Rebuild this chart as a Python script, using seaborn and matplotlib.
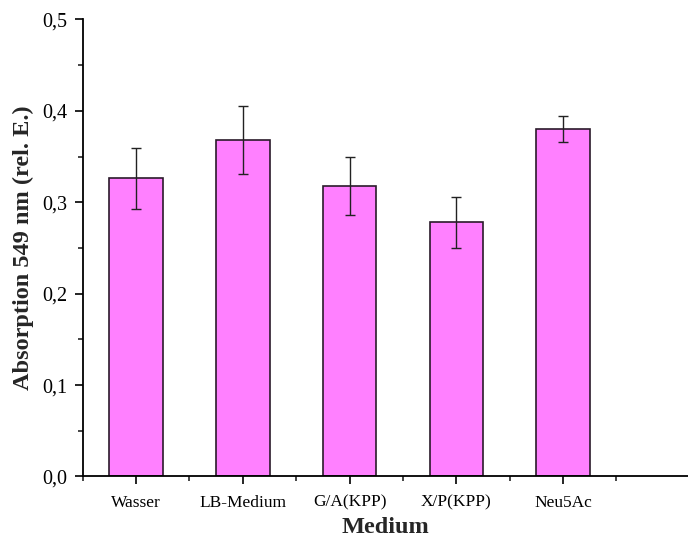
import matplotlib
matplotlib.use("Agg")
import matplotlib.pyplot as plt
import seaborn as sns
import pandas as pd
from matplotlib.ticker import MultipleLocator, FixedLocator, FuncFormatter

categories = ["Wasser", "LB-Medium", "G/A(KPP)", "X/P(KPP)", "Neu5Ac"]
values = [0.326, 0.368, 0.318, 0.278, 0.380]
errors = [0.033, 0.037, 0.032, 0.028, 0.014]

sns.set_style("ticks")
plt.rcParams['font.family'] = ['Liberation Serif', 'DejaVu Serif']

fig = plt.figure(figsize=(6.88, 5.39), dpi=100)
ax = fig.add_axes([0.1202, 0.116, 0.8798, 0.848])

df = pd.DataFrame({"Medium": categories, "Absorption": values})
sns.barplot(data=df, x="Medium", y="Absorption", order=categories, width=0.5,
            color="#FF80FF", saturation=1, edgecolor="#2a1a2a", linewidth=1.2, ax=ax)
ax.errorbar(range(len(categories)), values, yerr=errors, fmt="none",
            ecolor="#222222", elinewidth=1.0, capsize=3.6, capthick=1.0)

ax.set_xlim(-0.5, 5.17)
ax.set_ylim(0, 0.5)
ax.yaxis.set_major_locator(MultipleLocator(0.1))
ax.yaxis.set_minor_locator(MultipleLocator(0.05))
ax.yaxis.set_major_formatter(FuncFormatter(lambda v, p: f"{v:.1f}".replace(".", ",")))
ax.xaxis.set_minor_locator(FixedLocator([-0.5, 0.5, 1.5, 2.5, 3.5, 4.5]))

ax.tick_params(axis="both", which="major", direction="out", length=6, width=1.2,
               colors="black")
ax.tick_params(axis="x", which="major", labelsize=12.5, pad=7)
ax.tick_params(axis="y", which="major", labelsize=14.5, pad=5)
ax.tick_params(axis="both", which="minor", direction="out", length=3.5, width=1.2)

for s in ["top", "right"]:
    ax.spines[s].set_visible(False)
for s in ["left", "bottom"]:
    ax.spines[s].set_linewidth(1.3)
    ax.spines[s].set_color("black")

ax.set_xlabel("Medium", fontsize=17.5, fontweight="bold", labelpad=5)
ax.set_ylabel("Absorption 549 nm (rel. E.)", fontsize=17.5, fontweight="bold", labelpad=6)

fig.savefig("out.png", dpi=100)
